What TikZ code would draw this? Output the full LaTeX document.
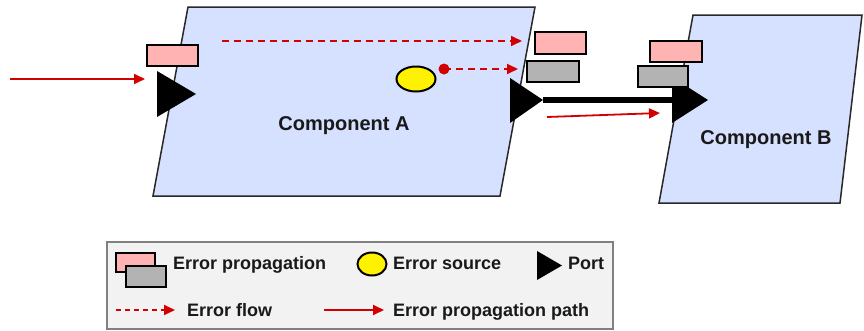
\documentclass[tikz,border=0pt]{standalone}
\usepackage{fontspec}
\setmainfont{Liberation Sans}
\usetikzlibrary{arrows.meta,shapes.geometric}
\definecolor{compfill}{RGB}{214,224,255}
\definecolor{pinkfill}{RGB}{255,179,179}
\definecolor{grayfill}{RGB}{179,179,179}
\definecolor{errred}{RGB}{210,0,0}
\definecolor{legbg}{RGB}{242,242,242}
\definecolor{legborder}{RGB}{128,128,128}
\definecolor{compborder}{RGB}{40,40,40}
\begin{document}
\begin{tikzpicture}[x=1pt,y=-1pt,
  comp/.style={fill=compfill,draw=compborder,line width=1.5pt,line join=miter},
  errprop/.style={draw=black,line width=2pt},
  pinkbox/.style={errprop,fill=pinkfill},
  graybox/.style={errprop,fill=grayfill},
  porttri/.style={fill=black},
  flowarrow/.style={draw=errred,line width=1.8pt,dash pattern=on 7pt off 5pt,-{Triangle[length=11pt,width=10pt]}},
  patharrow/.style={draw=errred,line width=1.8pt,-{Triangle[length=11pt,width=10pt]}},
  lbl/.style={font=\fontsize{20}{22}\selectfont\bfseries,text=black!90},
  leglbl/.style={font=\fontsize{18}{20}\selectfont\bfseries,text=black!90,anchor=base west,inner sep=0pt}
]
\useasboundingbox (0,0) rectangle (864,330);
% components
\draw[comp] (188,7) -- (535,7) -- (500,196) -- (153,196) -- cycle;
\draw[comp] (693,15) -- (862,15) -- (840,203) -- (659,203) -- cycle;
\node[lbl] (compA) at (344,126) {Component A};
\node[lbl] (compB) at (766,140) {Component B};

% left port of A
\fill[porttri] (157,71) -- (196,94) -- (157,117) -- cycle;
\coordinate (pAin) at (145,79);
\coordinate (src) at (10,79);
\draw[pinkbox] (147,45) rectangle (198,66);
\draw[patharrow] (src) -- (pAin);

% right port of A
\fill[porttri] (510,78) -- (543,100) -- (510,123) -- cycle;
\coordinate (pAout) at (543,100);
\draw[pinkbox] (535,32) rectangle (586,54);
\draw[graybox] (527,61) rectangle (579,82);

% port of B
\fill[porttri] (672,77) -- (708,100) -- (672,123) -- cycle;
\coordinate (pBin) at (674,100);
\draw[pinkbox] (650,41) rectangle (702,62);
\draw[graybox] (638,66) rectangle (688,87);

% connection
\draw[line width=6pt] (pAout) -- (pBin);
\coordinate (pa1) at (547,117);
\coordinate (pa2) at (660,113);
\draw[patharrow] (pa1) -- (pa2);

% error source and flows
\node[draw=black,line width=2pt,fill=yellow,ellipse,minimum width=39pt,minimum height=25pt,inner sep=0pt] (esrc) at (416,79) {};
\fill[errred] (444,69) circle (5.5);
\coordinate (dot) at (444,69);
\coordinate (f1s) at (222,41);
\coordinate (f1e) at (522,41);
\coordinate (f2e) at (518,69);
\draw[flowarrow] (f1s) -- (f1e);
\draw[flowarrow] (dot) -- (f2e);

% legend
\draw[fill=legbg,draw=legborder,line width=1.5pt] (107,242) rectangle (613,329);
\draw[pinkbox] (116,253) rectangle (155,272);
\draw[graybox] (126,266) rectangle (166,287);
\node[leglbl] (l1) at (173,269) {Error propagation};
\node[draw=black,line width=2pt,fill=yellow,ellipse,minimum width=29pt,minimum height=23pt,inner sep=0pt] (lsrc) at (372,264) {};
\node[leglbl] (l2) at (393,269) {Error source};
\fill[porttri] (537,251) -- (562,265.5) -- (537,280) -- cycle;
\node[leglbl] (l3) at (568,269) {Port};
\coordinate (lf1) at (116,310);
\coordinate (lf2) at (175,310);
\draw[flowarrow,dash pattern=on 5pt off 4pt] (lf1) -- (lf2);
\node[leglbl] (l4) at (187,316) {Error flow};
\coordinate (lp1) at (324,310);
\coordinate (lp2) at (384,310);
\draw[patharrow] (lp1) -- (lp2);
\node[leglbl] (l5) at (393,316) {Error propagation path};
\end{tikzpicture}
\end{document}
